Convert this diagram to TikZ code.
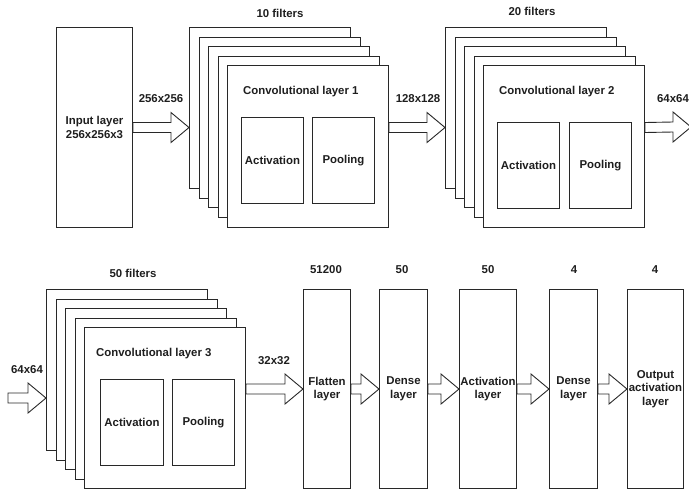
\documentclass[tikz,border=0pt]{standalone}
\usepackage{fontspec}
\setmainfont{Liberation Sans}
\usetikzlibrary{calc}
\definecolor{linecol}{RGB}{40,40,40}
\definecolor{txtcol}{RGB}{30,30,30}
\tikzset{
  every node/.style={font=\fontsize{11.4}{13.5}\selectfont\bfseries, text=txtcol},
  box/.style={draw=linecol, line width=1pt, fill=white, inner sep=0pt, align=center},
  sq/.style={box, minimum width=161pt, minimum height=161pt, anchor=north west},
  sub/.style={box, minimum width=62pt, minimum height=86pt, anchor=north west},
  tall/.style={box, minimum height=199pt, anchor=north west},
  lbl/.style={inner sep=0pt, align=center},
  barrow/.style={draw=linecol, line width=0.9pt, fill=white, line join=miter},
}
\newcommand{\blockarr}[2]{%
  \draw[barrow] ($(#1)+(0,-5)$) -- ($(#2)+(-18,-5)$) -- ($(#2)+(-18,-15)$) -- (#2)
    -- ($(#2)+(-18,15)$) -- ($(#2)+(-18,5)$) -- ($(#1)+(0,5)$) -- cycle;}
\begin{document}
\begin{tikzpicture}[x=1pt,y=-1pt]
\useasboundingbox (0,0) rectangle (689,491);
\clip (0,0) rectangle (689,491);

% Input layer
\node[box, minimum width=76pt, minimum height=200pt, anchor=north west] (inp) at (56,27) {Input layer\\256x256x3};

% Conv stack 1
\node[sq] (c1a) at (189,27) {};
\node[sq] (c1b) at (198.5,36.5) {};
\node[sq] (c1c) at (208,46) {};
\node[sq] (c1d) at (217.5,55.5) {};
\node[sq, minimum height=162pt] (c1e) at (227,65) {};
\node[lbl, anchor=west] (c1t) at (243,92) {Convolutional layer 1};
\node[sub] (c1act) at (241,117) {Activation};
\node[sub] (c1pool) at (312,117) {Pooling};
\node[lbl] (c1f) at (280,13) {10 filters};

% Conv stack 2
\node[sq] (c2a) at (445,27) {};
\node[sq] (c2b) at (454.5,36.5) {};
\node[sq] (c2c) at (464,46) {};
\node[sq] (c2d) at (473.5,55.5) {};
\node[sq, minimum height=162pt] (c2e) at (483,65) {};
\node[lbl, anchor=west] (c2t) at (499,92) {Convolutional layer 2};
\node[sub] (c2act) at (497,122) {Activation};
\node[sub] (c2pool) at (569,122) {Pooling};
\node[lbl] (c2f) at (532,11) {20 filters};

% Conv stack 3
\node[sq] (c3a) at (46,289) {};
\node[sq] (c3b) at (55.5,298.5) {};
\node[sq] (c3c) at (65,308) {};
\node[sq] (c3d) at (74.5,317.5) {};
\node[sq] (c3e) at (84,327) {};
\node[lbl, anchor=west] (c3t) at (96,354) {Convolutional layer 3};
\node[sub, minimum width=63pt] (c3act) at (100,379) {Activation};
\node[sub] (c3pool) at (172,379) {Pooling};
\node[lbl] (c3f) at (133,273) {50 filters};

% Bottom layers
\node[tall, minimum width=47pt] (flat) at (303,289) {Flatten\\layer};
\node[tall, minimum width=48pt] (dense1) at (379,289) {Dense\\layer};
\node[tall, minimum width=57pt] (actl) at (459,289) {Activation\\layer};
\node[tall, minimum width=48pt] (dense2) at (549,289) {Dense\\layer};
\node[tall, minimum width=56pt] (outl) at (627,289) {Output\\activation\\layer};
\node[lbl] (n1) at (326,270) {51200};
\node[lbl] (n2) at (402,270) {50};
\node[lbl] (n3) at (488,270) {50};
\node[lbl] (n4) at (574,270) {4};
\node[lbl] (n5) at (655,270) {4};

% Arrow end points
\coordinate (a1s) at (inp.east);
\coordinate (a1e) at (c1a.west |- inp.east);
\coordinate (a2s) at (c1e.east |- inp.east);
\coordinate (a2e) at (c2a.west |- inp.east);
\coordinate (a3s) at (c2e.east |- inp.east);
\coordinate (a3e) at (691,127);
\coordinate (a4s) at (8,398);
\coordinate (a4e) at (c3a.west |- a4s);
\coordinate (a5s) at (c3e.east |- flat.west);
\coordinate (a5e) at (flat.west);

\blockarr{a1s}{a1e}
\blockarr{a2s}{a2e}
\blockarr{a3s}{a3e}
\blockarr{a4s}{a4e}
\blockarr{a5s}{a5e}
\blockarr{flat.east}{dense1.west}
\blockarr{dense1.east}{actl.west}
\blockarr{actl.east}{dense2.west}
\blockarr{dense2.east}{outl.west}

% Arrow labels
\node[lbl] (l1) at (161,99) {256x256};
\node[lbl] (l2) at (418,99) {128x128};
\node[lbl] (l3) at (673,99) {64x64};
\node[lbl] (l4) at (27,370) {64x64};
\node[lbl] (l5) at (274,361) {32x32};
\end{tikzpicture}
\end{document}
